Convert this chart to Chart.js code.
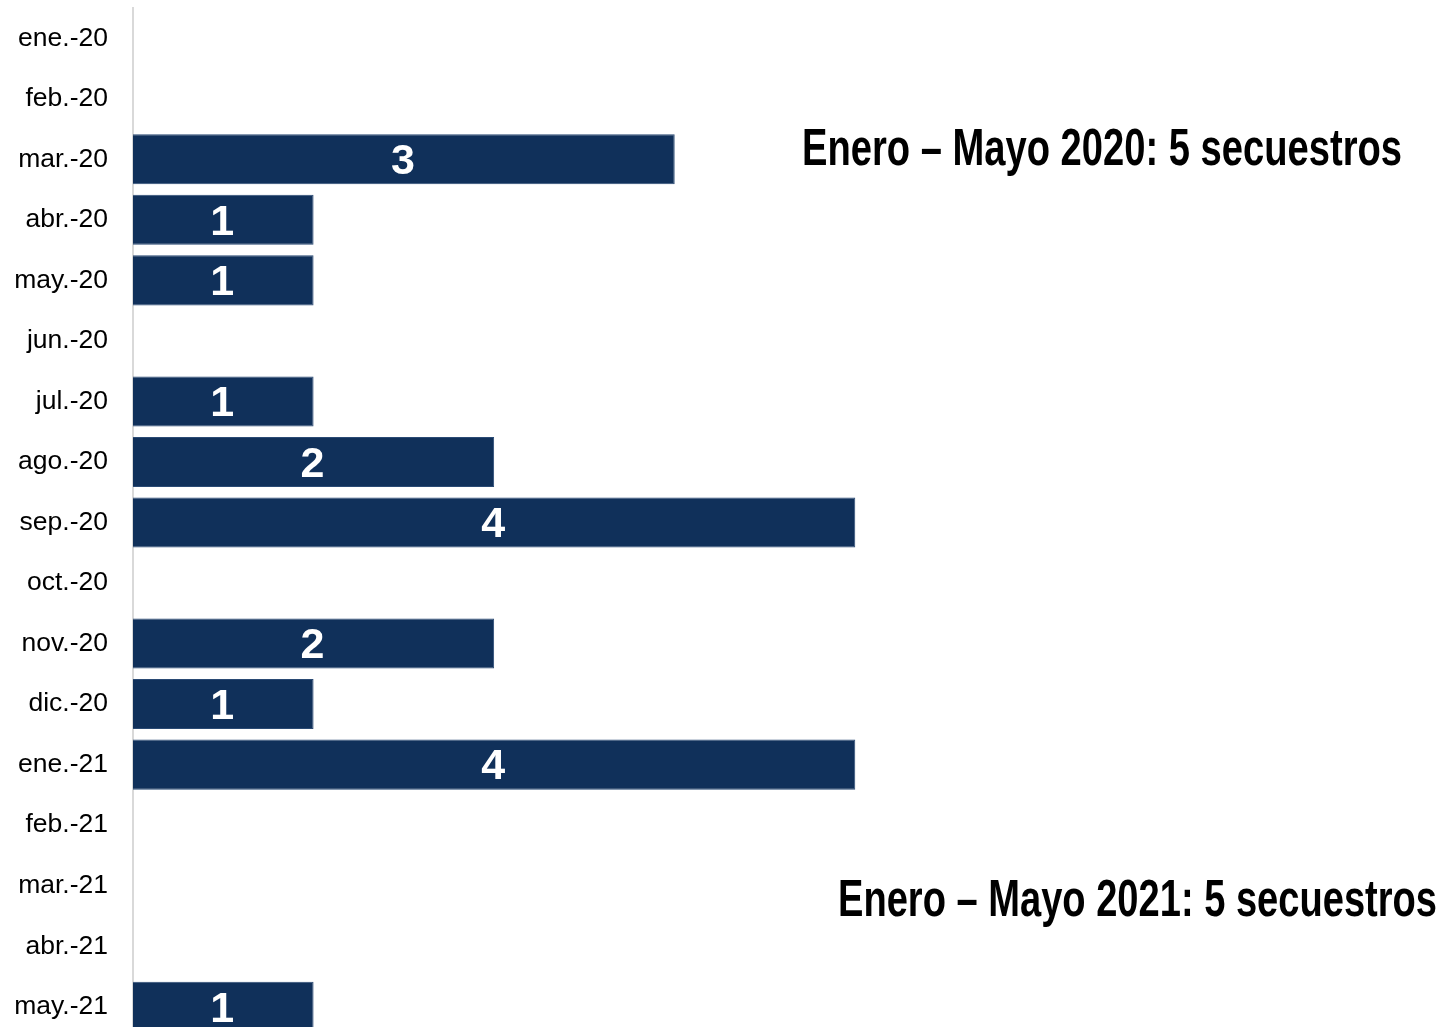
<!DOCTYPE html>
<html>
<head>
<meta charset="utf-8">
<script src="https://cdn.jsdelivr.net/npm/chart.js@4.4.0/dist/chart.umd.min.js"></script>
<style>
    html, body { margin: 0; padding: 0; background: #fff; overflow: hidden; }
    #wrap { width: 1442px; height: 1037px; }
</style>
</head>
<body>
<div id="wrap"><canvas id="chart"></canvas></div>
<script>
// datos
const meses = ['ene.-20', 'feb.-20', 'mar.-20', 'abr.-20', 'may.-20', 'jun.-20', 'jul.-20', 'ago.-20',
    'sep.-20', 'oct.-20', 'nov.-20', 'dic.-20', 'ene.-21', 'feb.-21', 'mar.-21', 'abr.-21', 'may.-21'];
const secuestros = [0, 0, 3, 1, 1, 0, 1, 2, 4, 0, 2, 1, 4, 0, 0, 0, 1];
const notas = ['Enero – Mayo 2020: 5 secuestros', 'Enero – Mayo 2021: 5 secuestros'];

// etiquetas blancas dentro de las barras
const etiquetasBarras = {
    id: 'etiquetasBarras',
    afterDatasetsDraw(chart) {
        const ctx = chart.ctx;
        const meta = chart.getDatasetMeta(0);
        ctx.save();
        ctx.fillStyle = '#ffffff';
        ctx.font = 'bold 43px "Liberation Sans", Arial, sans-serif';
        ctx.textAlign = 'center';
        ctx.textBaseline = 'middle';
        meta.data.forEach((bar, i) => {
            const v = secuestros[i];
            if (!v) return;
            const cx = (bar.base + bar.x) / 2;
            ctx.fillText(String(v), cx - 1, bar.y + 3);
        });
        ctx.restore();
    }
};

// textos de resumen (letra condensada)
const notasResumen = {
    id: 'notasResumen',
    afterDraw(chart) {
        const ctx = chart.ctx;
        ctx.save();
        ctx.fillStyle = '#000000';
        ctx.font = 'bold 52px "Liberation Sans", Arial, sans-serif';
        ctx.textAlign = 'left';
        ctx.textBaseline = 'alphabetic';
        ctx.fillText(notas[0], 802, 165, 600);
        ctx.fillText(notas[1], 838, 916, 599);
        ctx.restore();
    }
};

new Chart(document.getElementById('chart'), {
    type: 'bar',
    data: {
        labels: meses,
        datasets: [{
            data: secuestros,
            backgroundColor: '#10305a',
            borderColor: '#2a4a74',
            borderWidth: 1,
            barPercentage: 50 / 60.5,
            categoryPercentage: 1
        }]
    },
    options: {
        indexAxis: 'y',
        responsive: true,
        maintainAspectRatio: false,
        animation: false,
        layout: {
            padding: { top: 8, right: 45, bottom: 0, left: 0 }
        },
        plugins: {
            legend: { display: false },
            tooltip: { enabled: false }
        },
        scales: {
            x: {
                display: false,
                min: 0,
                max: 7
            },
            y: {
                afterFit(scale) {
                    scale.width = 133;
                    scale.paddingTop = 0;
                    scale.paddingBottom = 0;
                },
                grid: { display: false },
                border: { display: true, color: '#d9d9d9', width: 2 },
                ticks: {
                    color: '#000000',
                    padding: 17,
                    font: { family: '"Liberation Sans", Arial, sans-serif', size: 26.5 }
                }
            }
        }
    },
    plugins: [etiquetasBarras, notasResumen]
});
</script>
</body>
</html>
